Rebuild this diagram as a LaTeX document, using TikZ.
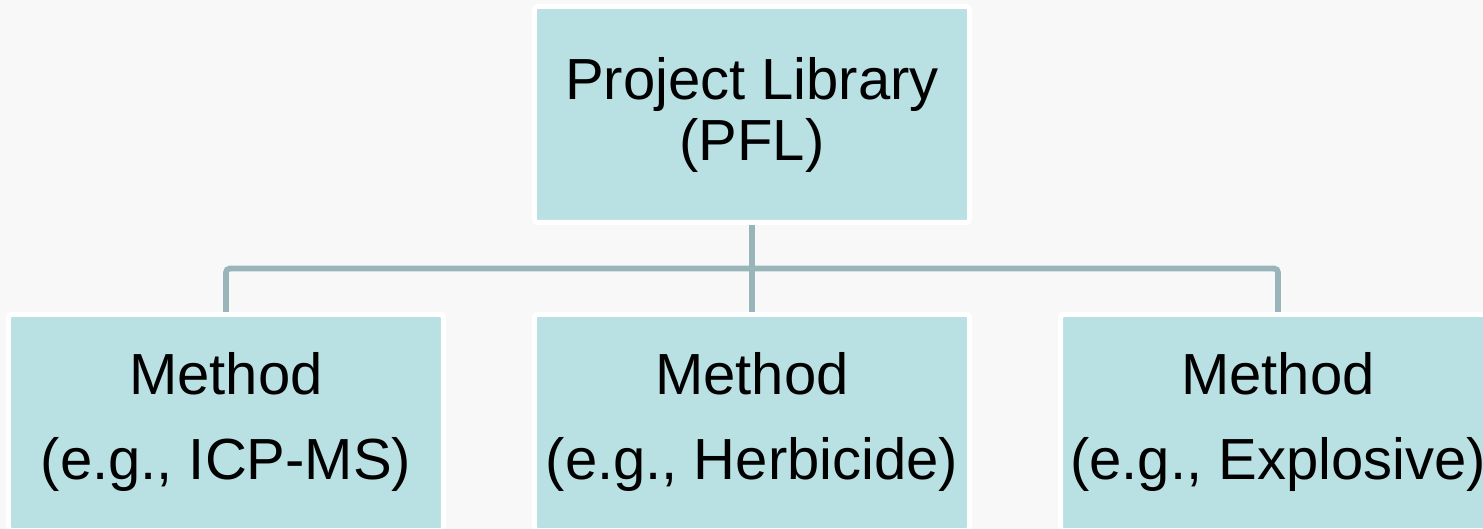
\documentclass[tikz,border=0pt]{standalone}
\usepackage{fontspec}
\setmainfont{Liberation Sans}
\usepackage{tikz}
\usetikzlibrary{positioning}
\definecolor{boxfill}{HTML}{B9E0E3}
\definecolor{linkgray}{HTML}{9AB5B9}
\definecolor{pagebg}{HTML}{F8F8F8}
\tikzset{
    box/.style={rectangle, rounded corners=1.5pt,
        minimum width=217.5pt, minimum height=108pt, inner sep=2pt,
        draw=white, line width=2.5pt, fill=boxfill, align=center},
    topbox/.style={box, font=\fontsize{29}{30.5}\selectfont},
    leafbox/.style={box, font=\fontsize{29}{42.5}\selectfont},
    link/.style={draw=linkgray, line width=2.9pt, rounded corners=2pt}
}

\begin{document}
\begin{tikzpicture}[node distance=43.5pt and 43pt]
    \useasboundingbox (-376pt,57.25pt) rectangle (365.5pt,-207.25pt);
    \fill[pagebg] (-376pt,57.25pt) rectangle (365.5pt,-207.25pt);
    \clip (-376pt,57.25pt) rectangle (365.5pt,-207.25pt);
    \node[topbox] (pfl) at (0,0) {Project Library\\(PFL)};
    \node[leafbox, below=of pfl] (herb) {Method\\(e.g., Herbicide)};
    \node[leafbox, left=of herb] (icp) {Method\\(e.g., ICP-MS)};
    \node[leafbox, right=of herb] (expl) {Method\\(e.g., Explosive)};
    \coordinate[below=21.75pt of pfl] (split);
    \draw[link] (pfl) -- (herb);
    \draw[link] (icp.north) |- (split) -| (expl.north);
\end{tikzpicture}
\end{document}
